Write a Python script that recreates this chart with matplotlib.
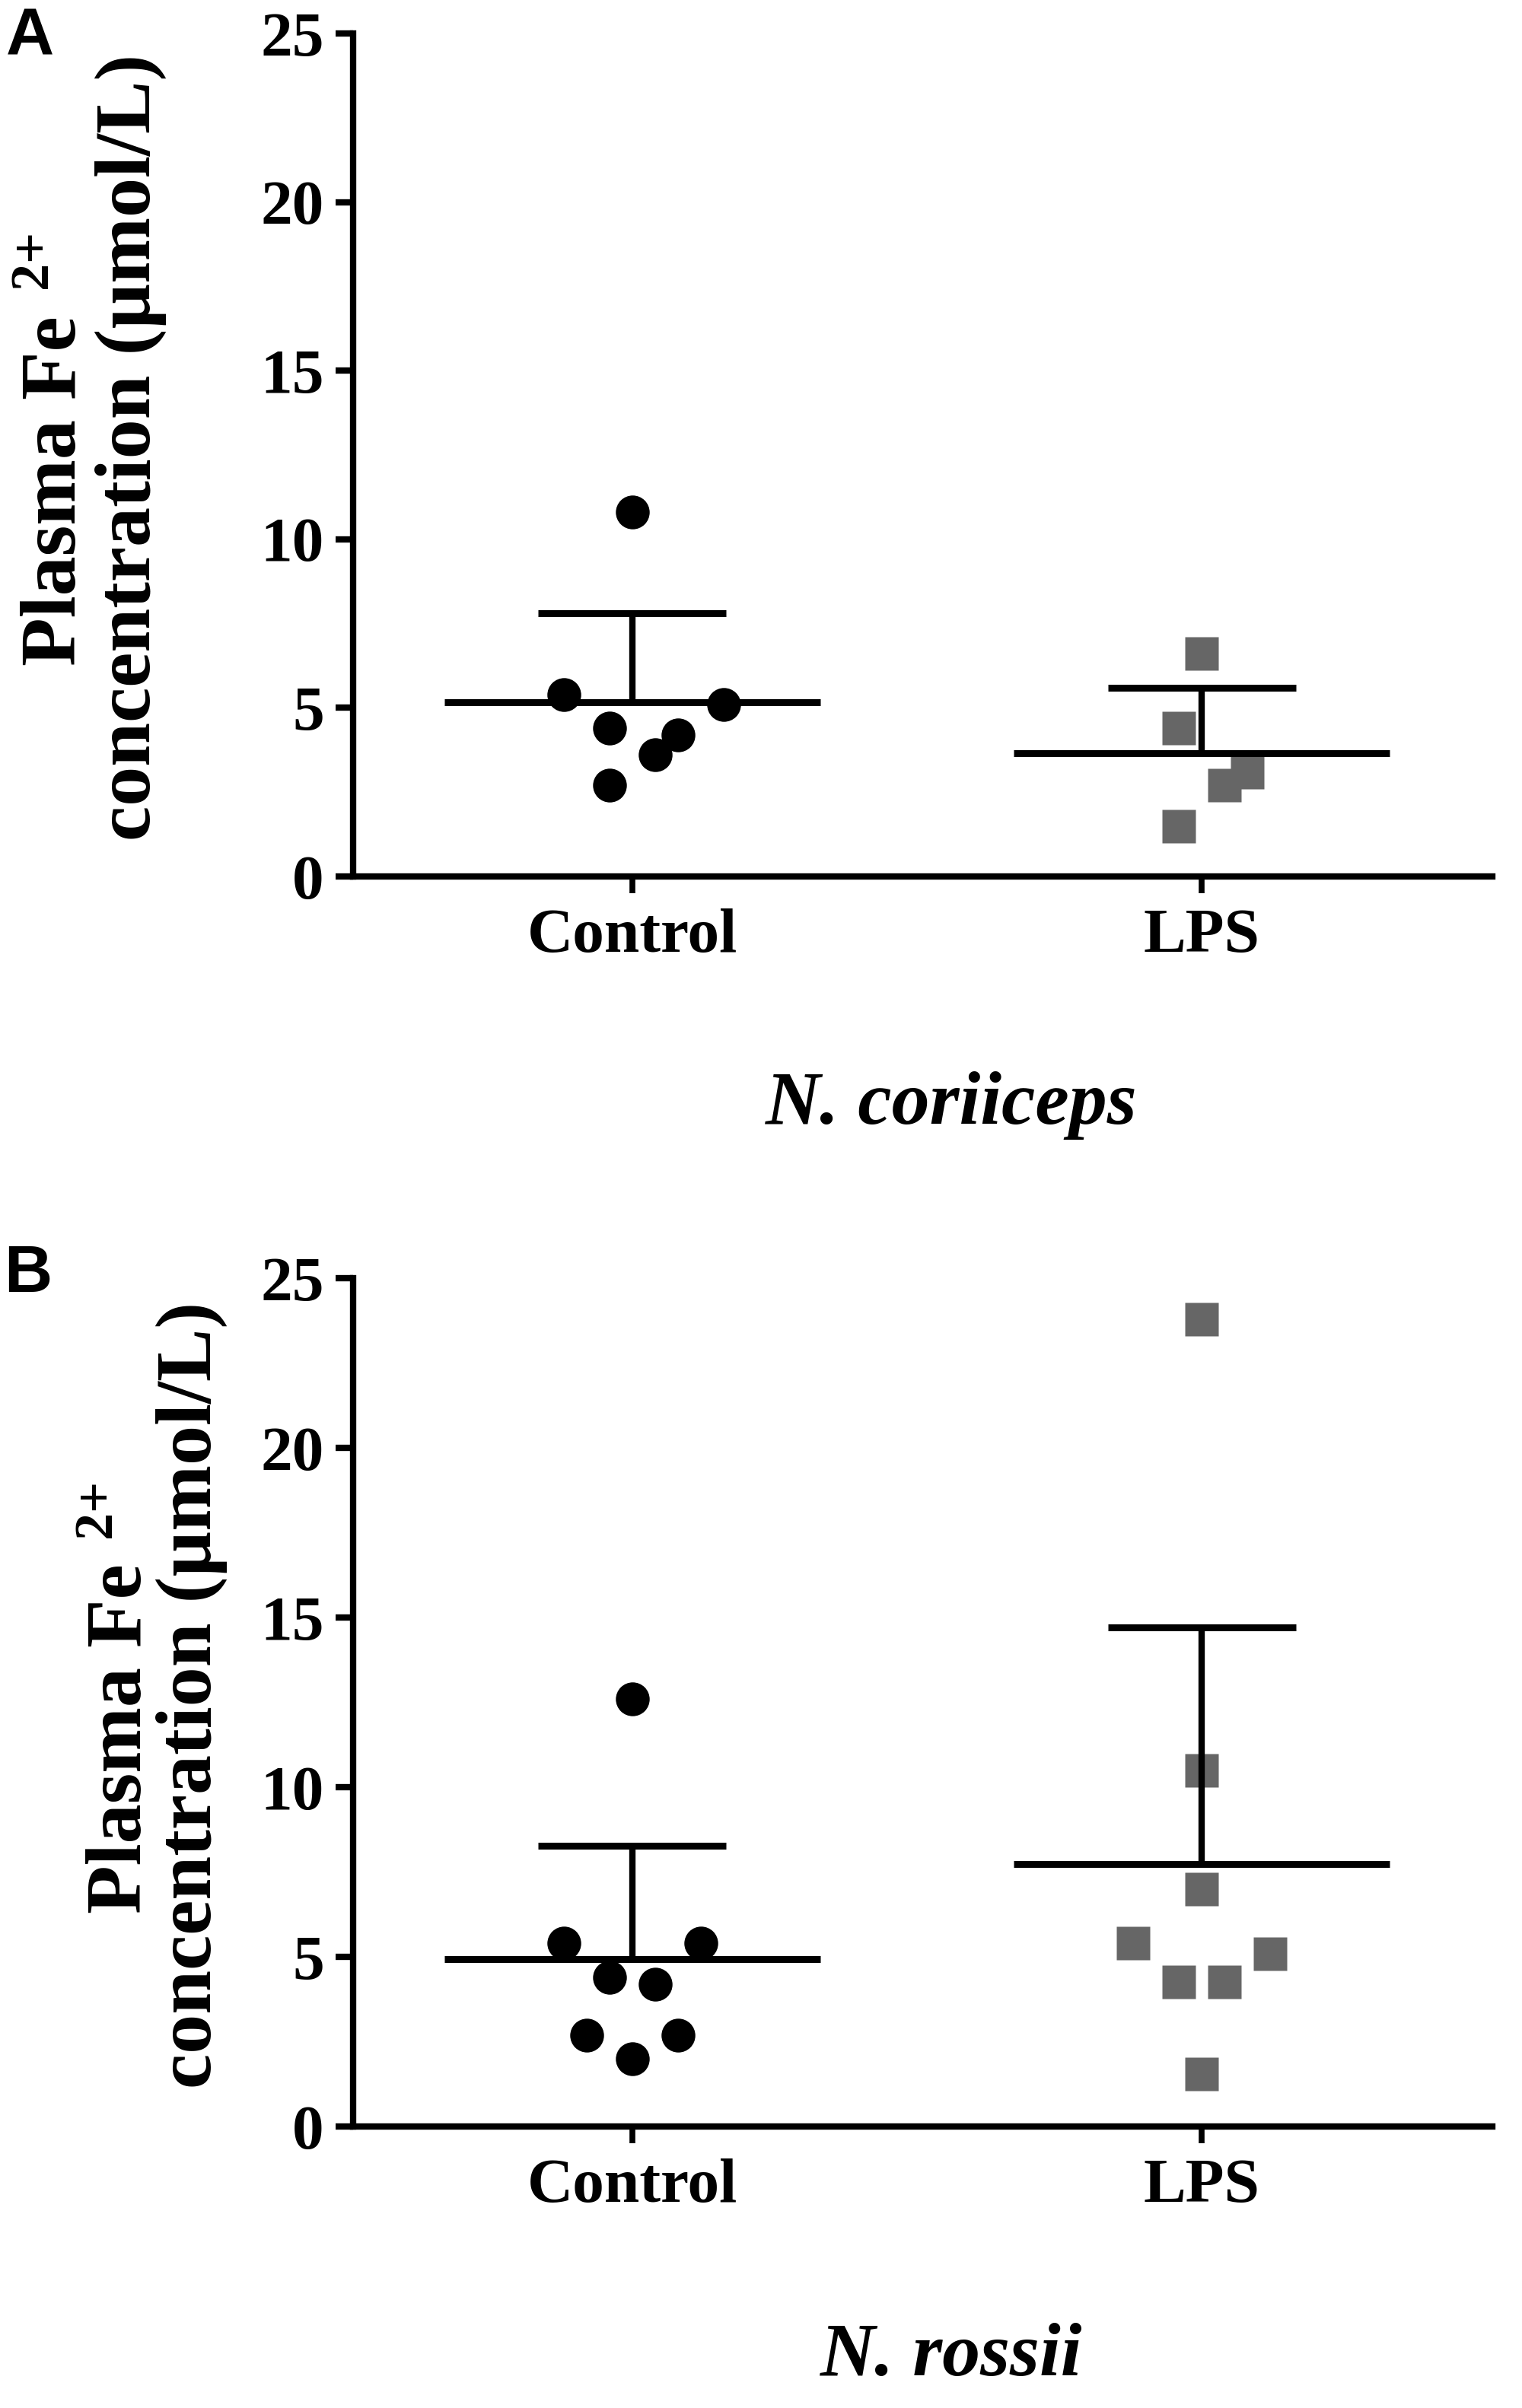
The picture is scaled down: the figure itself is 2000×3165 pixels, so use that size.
import matplotlib.pyplot as plt
import numpy as np

groups = ['Control', 'LPS']
species = ['N. coriiceps', 'N. rossii']
yticks = [0, 5, 10, 15, 20, 25]

# panel A - N. coriiceps, plasma Fe2+ (umol/L)
a_control = [10.8, 5.4, 5.1, 4.4, 4.2, 3.6, 2.7]
a_lps = [6.6, 4.4, 3.1, 2.7, 1.5]

# panel B - N. rossii
b_control = [12.6, 5.4, 5.4, 4.4, 4.2, 2.7, 2.7, 2.0]
b_lps = [23.8, 10.5, 7.0, 5.4, 5.1, 4.25, 4.25, 1.55]

# sideways spread of the dots, as a fraction of the group spacing
a_control_dx = [0, -0.12, 0.16, -0.04, 0.08, 0.04, -0.04]
a_lps_dx = [0, -0.04, 0.08, 0.04, -0.04]
b_control_dx = [0, -0.12, 0.12, -0.04, 0.04, -0.08, 0.08, 0]
b_lps_dx = [0, 0, 0, -0.12, 0.12, -0.04, 0.04, 0]

plt.rcParams['font.family'] = 'Liberation Serif'
plt.rcParams['font.weight'] = 'bold'

W, H = 2000, 3165
fig = plt.figure(figsize=(W / 100, H / 100), dpi=100)


def fpos(x, y):
    # pixel position (from top left) -> figure fraction
    return x / W, 1 - y / H


def draw_panel(ax, control, lps, control_dx, lps_dx):
    sets = [(control, control_dx, 'o', 'black', 32),
            (lps, lps_dx, 's', '#666666', 31)]
    for i, (vals, dx, marker, color, ms) in enumerate(sets):
        vals = np.array(vals)
        x = i + np.array(dx)
        ax.plot(x, vals, ls='none', marker=marker, ms=ms, color=color,
                mec='none', zorder=3, clip_on=False)
        m = vals.mean()
        sd = vals.std(ddof=1)
        ax.hlines(m, i - 0.33, i + 0.33, color='black', lw=6.5, zorder=4)
        ax.vlines(i, m, m + sd, color='black', lw=6, zorder=4)
        ax.hlines(m + sd, i - 0.165, i + 0.165, color='black', lw=6.5, zorder=4)

    ax.set_xlim(-0.49, 1.51)
    ax.set_ylim(0, 25)
    ax.set_yticks(yticks)
    ax.set_xticks([0, 1])
    ax.set_xticklabels(groups)
    for s in ['top', 'right']:
        ax.spines[s].set_visible(False)
    for s in ['left', 'bottom']:
        ax.spines[s].set_linewidth(6)
    ax.tick_params(axis='y', length=16.5, width=6, pad=11, labelsize=60)
    ax.tick_params(axis='x', length=16, width=5.5, pad=14, labelsize=60)


ax_a = fig.add_axes([464 / W, 1 - 1152 / H, 1497 / W, 1108 / H])
draw_panel(ax_a, a_control, a_lps, a_control_dx, a_lps_dx)

ax_b = fig.add_axes([464 / W, 1 - 2795 / H, 1497 / W, 1115 / H])
draw_panel(ax_b, b_control, b_lps, b_control_dx, b_lps_dx)

# y axis labels (two lines + superscript), placed by hand
label_pos = [
    # line1 baseline x, line1 centre y, line2 x, line2 y, sup x, sup y
    (99, 645, 197, 588, 61, 340),
    (185, 2285, 277, 2228, 145, 1982),
]
for x1, y1, x2, y2, xs, ys in label_pos:
    fig.text(*fpos(x1, y1), 'Plasma Fe', rotation=90, rotation_mode='anchor',
             ha='center', va='baseline', fontsize=75)
    fig.text(*fpos(x2, y2), 'concentration (\u00b5mol/L)', rotation=90,
             rotation_mode='anchor', ha='center', va='baseline', fontsize=75)
    fig.text(*fpos(xs, ys), '2+', rotation=90, rotation_mode='anchor',
             ha='center', va='baseline', fontsize=52)

# species names under each panel
fig.text(*fpos(1250, 1477), species[0], ha='center', va='baseline',
         fontsize=72, family=['Liberation Serif'], style='italic',
         weight='bold')
fig.text(*fpos(1250, 3122), species[1], ha='center', va='baseline',
         fontsize=72, family=['Liberation Serif'], style='italic',
         weight='bold')

# panel letters
fig.text(*fpos(8, 71), 'A', ha='left', va='baseline', fontsize=63,
         family='Liberation Sans', weight='bold')
fig.text(*fpos(5, 1698), 'B', ha='left', va='baseline', fontsize=63,
         family='Liberation Sans', weight='bold')

fig.savefig('out.png', dpi=100)
